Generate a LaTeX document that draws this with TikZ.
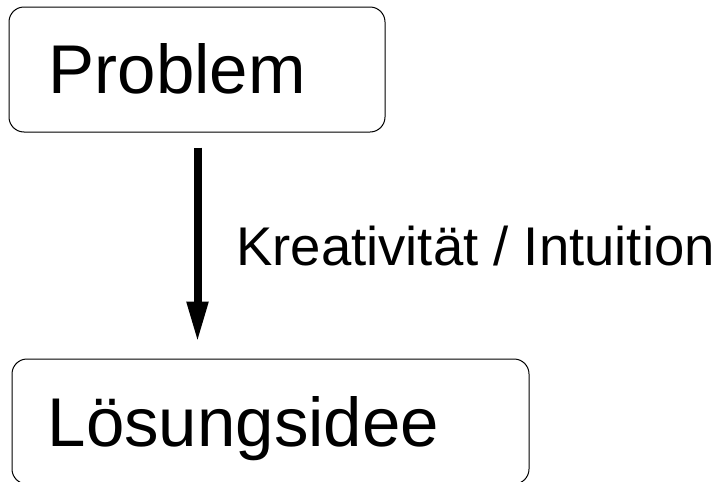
\documentclass[tikz,border=0pt]{standalone}
\usepackage{fontspec}
\setmainfont{Liberation Sans}
\usetikzlibrary{arrows.meta}
\tikzset{
  box/.style={draw=black, line width=1pt, rounded corners=15pt, fill=white, inner sep=0pt},
  bigtext/.style={font=\fontsize{69}{82}\selectfont, inner sep=0pt, anchor=base west},
  labeltext/.style={font=\fontsize{54.5}{64}\selectfont, inner sep=0pt, anchor=base west},
  arr/.style={line width=8pt, -{Triangle[width=20pt,length=41pt]}}
}
\begin{document}
\begin{tikzpicture}[x=1pt,y=-1pt]
\useasboundingbox (0,0) rectangle (726,482);
\node[box, minimum width=376pt, minimum height=125pt] (p) at (197,69.5) {};
\node[bigtext] (pt) at (48.5,93) {Problem};
\node[box, minimum width=517pt, minimum height=125pt] (l) at (270.5,421.5) {};
\node[bigtext] (lt) at (47.5,446) {Lösungsidee};
\path (p.south) ++(0.5,0) coordinate (a1);
\draw[arr, shorten <=15pt, shorten >=16pt] (a1) -- (a1 |- l.north);
\node[labeltext] (k) at (236,265) {Kreativität / Intuition};
\end{tikzpicture}
\end{document}
